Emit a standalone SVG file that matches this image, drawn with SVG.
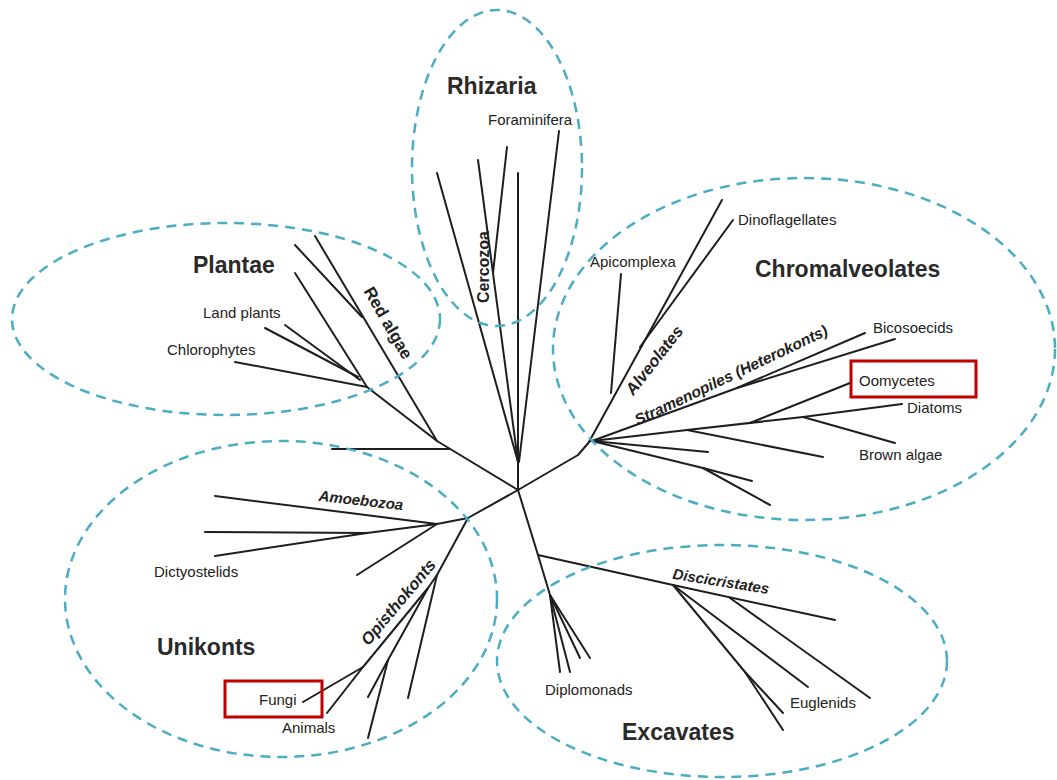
<svg xmlns="http://www.w3.org/2000/svg" width="1057" height="780" viewBox="0 0 1057 780">
<style>
.grp{fill:none;stroke:#4bacc6;stroke-width:2.5;stroke-dasharray:10 7}
.br{fill:none;stroke:#1e1e1e;stroke-width:2;stroke-linecap:round;stroke-linejoin:round}
.t{font-family:"Liberation Sans",Arial,sans-serif;font-size:15px;fill:#222}
.h{font-family:"Liberation Sans",Arial,sans-serif;font-size:23px;font-weight:bold;fill:#2a2a2a}
.bi{font-family:"Liberation Sans",Arial,sans-serif;font-weight:bold;font-style:italic;fill:#222;text-anchor:middle;dominant-baseline:central}
.r{font-family:"Liberation Sans",Arial,sans-serif;font-weight:bold;fill:#222;text-anchor:middle;dominant-baseline:central}
.box{fill:none;stroke:#c00000;stroke-width:3}
</style>
<rect width="1057" height="780" fill="#ffffff"/>

<g id="connectors" class="br">
  <path d="M518,490 L437,441 L367,387"/>
  <path d="M450,449 L332,449"/>
  <path d="M437,441 L315,236"/>
  <path d="M362,317 L295,245"/>
  <path d="M367,387 L295,273"/>
  <path d="M360,380 L285,325"/>
  <path d="M358,377 L265,328"/>
  <path d="M367,387 L235,362"/>
  <path d="M518,490 L518,462"/>
  <path d="M518,462 L437,173"/>
  <path d="M518,462 L478,160"/>
  <path d="M493,273 L507,147"/>
  <path d="M518,462 L518,173"/>
  <path d="M519,462 L559,131"/>
  <path d="M518,490 L578,455 L590,441"/>
  <path d="M589,442 L722,200"/>
  <path d="M611,393 L621,274"/>
  <path d="M640,347 L733,220"/>
  <path d="M592,441 L737,388 L865,333"/>
  <path d="M737,388 L895,339"/>
  <path d="M592,441 L687,430 L803,417 L902,404"/>
  <path d="M750,423 L850,383"/>
  <path d="M803,417 L895,443"/>
  <path d="M687,430 L823,457"/>
  <path d="M592,441 L708,452"/>
  <path d="M592,441 L703,468 L752,481"/>
  <path d="M703,468 L770,505"/>
  <path d="M518,490 L468,518 L437,524"/>
  <path d="M437,524 L215,496"/>
  <path d="M437,524 L367,533 L205,532"/>
  <path d="M367,533 L215,556"/>
  <path d="M437,524 L357,575"/>
  <path d="M468,518 L437,575 L408,698"/>
  <path d="M437,575 L428,588 L363,667 L303,702"/>
  <path d="M363,667 L327,713"/>
  <path d="M428,588 L388,660 L368,697"/>
  <path d="M388,660 L368,738"/>
  <path d="M518,490 L538,555 L550,595"/>
  <path d="M550,595 L560,672"/>
  <path d="M550,595 L570,672"/>
  <path d="M550,595 L580,658"/>
  <path d="M550,595 L590,658"/>
  <path d="M538,555 L673,585 L835,620"/>
  <path d="M673,585 L745,672 L783,713"/>
  <path d="M745,672 L783,730"/>
  <path d="M673,585 L808,687"/>
  <path d="M730,598 L870,698"/>
</g>

<g id="rhizaria">
  <ellipse class="grp" cx="497" cy="168" rx="85" ry="158"/>
  <text class="h" x="447" y="94">Rhizaria</text>
  <text class="t" x="488" y="125">Foraminifera</text>
  <text class="r" font-size="16" transform="translate(483,267) rotate(-90)">Cercozoa</text>
</g>

<g id="plantae">
  <ellipse class="grp" cx="226" cy="319" rx="214" ry="96"/>
  <text class="h" x="193" y="273">Plantae</text>
  <text class="t" x="203" y="318">Land plants</text>
  <text class="t" x="167" y="355">Chlorophytes</text>
  <text class="r" font-size="17" transform="translate(388,323) rotate(60)">Red algae</text>
</g>

<g id="chromalveolates">
  <ellipse class="grp" cx="804" cy="349" rx="251" ry="171"/>
  <text class="h" x="755" y="277">Chromalveolates</text>
  <text class="t" x="738" y="225">Dinoflagellates</text>
  <text class="t" x="590" y="267">Apicomplexa</text>
  <text class="t" x="873" y="333">Bicosoecids</text>
  <rect class="box" x="851" y="361" width="125" height="36"/>
  <text class="t" x="859" y="386">Oomycetes</text>
  <text class="t" x="907" y="413">Diatoms</text>
  <text class="t" x="859" y="460">Brown algae</text>
  <text class="bi" font-size="16.5" transform="translate(654,360) rotate(-52)">Alveolates</text>
  <text class="bi" font-size="15.5" transform="translate(731,375) rotate(-25.5)">Stramenopiles (Heterokonts)</text>
</g>

<g id="unikonts">
  <ellipse class="grp" cx="281" cy="599" rx="216" ry="158"/>
  <text class="bi" font-size="15" transform="translate(361,500) rotate(6.5)">Amoebozoa</text>
  <text class="t" x="154" y="577">Dictyostelids</text>
  <text class="h" x="157" y="655">Unikonts</text>
  <rect class="box" x="225" y="681" width="97" height="36"/>
  <text class="t" x="259" y="705">Fungi</text>
  <text class="t" x="282" y="733">Animals</text>
  <text class="bi" font-size="16.5" transform="translate(398,602) rotate(-50)">Opisthokonts</text>
</g>

<g id="excavates">
  <ellipse class="grp" cx="722" cy="661" rx="225" ry="116"/>
  <text class="bi" font-size="15" transform="translate(721,581) rotate(9)">Discicristates</text>
  <text class="t" x="545" y="695">Diplomonads</text>
  <text class="t" x="790" y="708">Euglenids</text>
  <text class="h" x="622" y="740">Excavates</text>
</g>
</svg>
